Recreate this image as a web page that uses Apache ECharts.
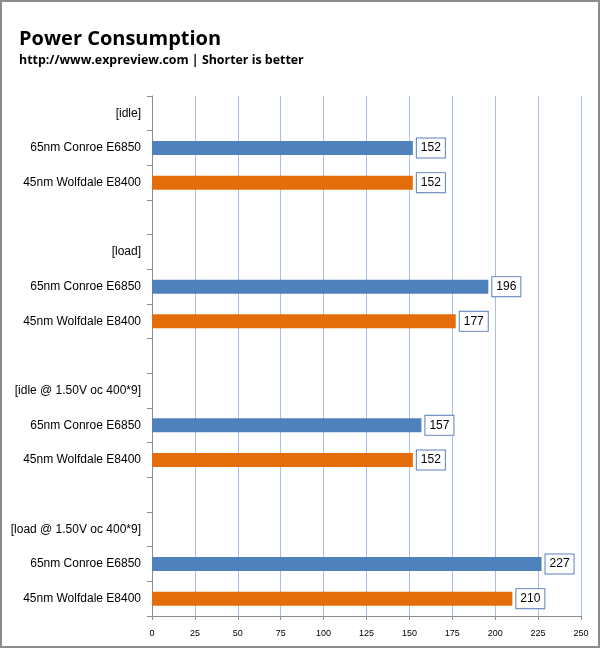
<!DOCTYPE html>
<html>
<head>
<meta charset="utf-8">
<script src="https://cdn.jsdelivr.net/npm/echarts@6/dist/echarts.min.js"></script>
<style>
html,body{margin:0;padding:0;background:#fff;}
#frame{position:absolute;left:0;top:0;width:596px;height:644px;border:2px solid #8c8c8c;background:#fff;}
#chart{position:absolute;left:0;top:0;width:600px;height:648px;}
</style>
</head>
<body>
<div id="frame"></div>
<div id="chart"></div>
<script>
const groups = ['[idle]', '[load]', '[idle @ 1.50V oc 400*9]', '[load @ 1.50V oc 400*9]'];
const cpuNames = ['65nm Conroe E6850', '45nm Wolfdale E8400'];
const conroe = [152, 196, 157, 227];
const wolfdale = [152, 177, 152, 210];
const xTicks = [0, 25, 50, 75, 100, 125, 150, 175, 200, 225, 250];

const categories = [];
const conroeData = [];
const wolfdaleData = [];
groups.forEach((g, i) => {
  categories.push(g); conroeData.push('-'); wolfdaleData.push('-');
  categories.push(cpuNames[0]); conroeData.push(conroe[i]); wolfdaleData.push('-');
  categories.push(cpuNames[1]); conroeData.push('-'); wolfdaleData.push(wolfdale[i]);
  if (i < groups.length - 1) { categories.push(''); conroeData.push('-'); wolfdaleData.push('-'); }
});

const labelStyle = {
  show: true,
  position: 'right',
  distance: 4,
  color: '#000',
  fontFamily: 'Liberation Sans, Arial, sans-serif',
  fontSize: 12,
  backgroundColor: '#fff',
  borderColor: '#5b80b8',
  borderWidth: 1,
  padding: [4, 4, 3, 4]
};

const chart = echarts.init(document.getElementById('chart'), null, {renderer: 'canvas'});
chart.setOption({
  backgroundColor: 'transparent',
  animation: false,
  title: {
    text: 'Power Consumption',
    subtext: 'http://www.expreview.com | Shorter is better',
    left: 14,
    top: 24,
    itemGap: 5,
    textStyle: {fontFamily: 'Open Sans, sans-serif', fontWeight: 'bold', fontSize: 20, color: '#000'},
    subtextStyle: {fontFamily: 'Open Sans, sans-serif', fontWeight: 'bold', fontSize: 12.4, color: '#000'}
  },
  grid: {left: 152, right: 19, top: 96, bottom: 32, containLabel: false},
  xAxis: {
    type: 'value',
    min: 0, max: 250, interval: 25,
    axisLine: {show: true, lineStyle: {color: '#8c8c8c', width: 1}},
    axisTick: {show: true, length: 4, lineStyle: {color: '#8c8c8c'}},
    axisLabel: {fontFamily: 'Liberation Sans, Arial, sans-serif', fontSize: 9, color: '#000', margin: 13,
      formatter: v => xTicks.includes(v) ? String(v) : ''},
    splitLine: {show: true, lineStyle: {color: '#a9c0e6', width: 1}}
  },
  yAxis: {
    type: 'category',
    data: categories,
    inverse: true,
    axisLine: {show: true, lineStyle: {color: '#8c8c8c', width: 1}},
    axisTick: {show: true, length: 5, inside: false, lineStyle: {color: '#8c8c8c'}},
    axisLabel: {fontFamily: 'Liberation Sans, Arial, sans-serif', fontSize: 12, color: '#000', margin: 11},
    splitLine: {show: false}
  },
  series: [
    {type: 'bar', name: cpuNames[0], data: conroeData, barWidth: 14, barGap: '-100%',
      itemStyle: {color: '#4f81bd'}, label: labelStyle},
    {type: 'bar', name: cpuNames[1], data: wolfdaleData, barWidth: 14, barGap: '-100%',
      itemStyle: {color: '#e46c0a'}, label: labelStyle}
  ]
});
</script>
</body>
</html>
